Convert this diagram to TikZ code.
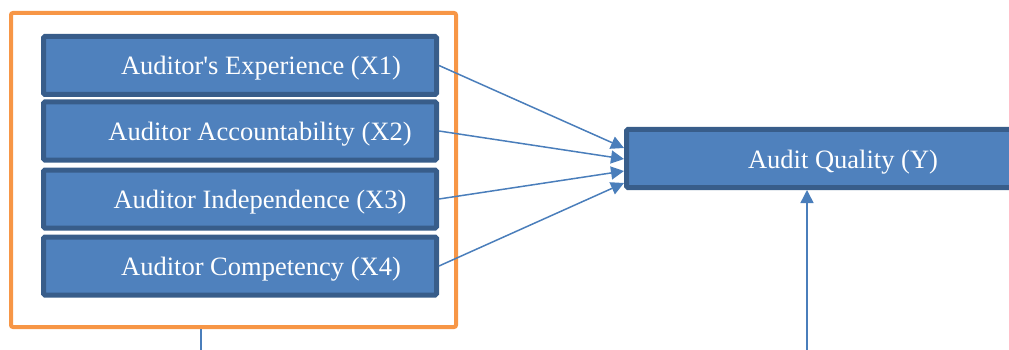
\documentclass[tikz,border=0pt]{standalone}
\usepackage{fontspec}
\setmainfont{Liberation Serif}
\usetikzlibrary{arrows.meta}
\definecolor{boxfill}{HTML}{4F81BD}
\definecolor{boxline}{HTML}{385D8A}
\definecolor{orangeline}{HTML}{F79646}
\definecolor{arrowblue}{HTML}{4A7EBB}
\tikzset{
  varbox/.style={draw=boxline, fill=boxfill, line width=5pt, rounded corners=1.5pt,
    minimum width=393pt, minimum height=58pt, inner sep=0pt},
  ybox/.style={varbox, minimum width=433pt},
  vartext/.style={text=white, font=\fontsize{26.5}{30}\selectfont, anchor=base, inner sep=0pt},
  groupbox/.style={draw=orangeline, line width=4pt, rounded corners=2pt,
    minimum width=445pt, minimum height=314pt, inner sep=0pt},
  link/.style={draw=arrowblue, line width=1.5pt, -{Triangle[length=13pt,width=13pt]}},
  plainlink/.style={draw=arrowblue, line width=1.5pt}
}
\begin{document}
\begin{tikzpicture}[x=1pt,y=-1pt]
\useasboundingbox (0,0) rectangle (1009,350);
\clip (0,0) rectangle (1009,350);
\node[groupbox] (grp) at (233.5,170) {};
\node[varbox] (x1) at (240,65.5) {};
\node[varbox] (x2) at (240,131) {};
\node[varbox] (x3) at (240,199) {};
\node[varbox] (x4) at (240,266) {};
\node[ybox] (y) at (843,158.5) {};
\node[vartext] (t1) at ([xshift=21pt,yshift=-9.5pt]x1.center) {Auditor\textquotesingle s Experience (X1)};
\node[vartext] (t2) at ([xshift=20pt,yshift=-9.5pt]x2.center) {Auditor Accountability (X2)};
\node[vartext] (t3) at ([xshift=20pt,yshift=-9.5pt]x3.center) {Auditor Independence (X3)};
\node[vartext] (t4) at ([xshift=21pt,yshift=-9.5pt]x4.center) {Auditor Competency (X4)};
\node[vartext] (ty) at ([yshift=-10pt]y.center) {Audit Quality (Y)};
\draw[link] (x1.east) -- ([yshift=10.5pt]y.west);
\draw[link] (x2.east) -- ([yshift=-0.5pt]y.west);
\draw[link] (x3.east) -- ([yshift=-12.5pt]y.west);
\draw[link] (x4.east) -- ([yshift=-24.5pt]y.west);
\coordinate (b1) at (807,352);
\coordinate (b2) at (201,352);
\draw[link] (b1) -- (b1 |- y.south);
\draw[plainlink] (b2) -- (b2 |- grp.south);
\end{tikzpicture}
\end{document}
